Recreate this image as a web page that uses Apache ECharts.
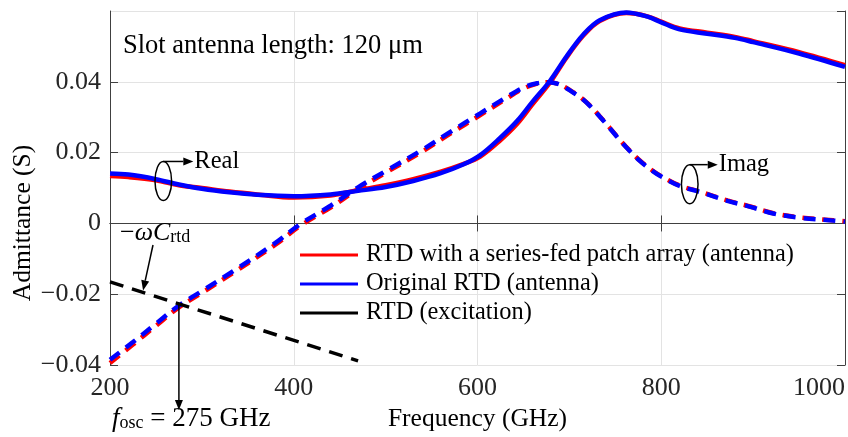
<!DOCTYPE html>
<html>
<head>
<meta charset="utf-8">
<script src="https://cdn.jsdelivr.net/npm/echarts@6/dist/echarts.min.js"></script>
<style>
html,body{margin:0;padding:0;background:#fff;}
#c{width:848px;height:437px;}
</style>
</head>
<body>
<div id="c"></div>
<script>
// ---- data ----
const xTicks = [200, 400, 600, 800, 1000];
const yTicks = [-0.04, -0.02, 0, 0.02, 0.04];

const realFreq = [200,220,250,275,300,330,360,400,440,470,500,530,560,585,603,624,643,660,679,697,715,733,762,785,800,820,850,880,900,950,1000];
const realOrig = [0.0141,0.0138,0.0125,0.0110,0.0098,0.0088,0.0081,0.0077,0.0082,0.0092,0.0103,0.0120,0.0142,0.0167,0.0193,0.0240,0.0289,0.0344,0.0403,0.0472,0.0533,0.0574,0.0596,0.0584,0.0568,0.0548,0.0536,0.0524,0.0512,0.0480,0.0442];
const realPatch = [0.0134,0.0131,0.0122,0.0108,0.0100,0.0090,0.0082,0.0073,0.0079,0.0094,0.0108,0.0125,0.0146,0.0168,0.0189,0.0233,0.0281,0.0337,0.0398,0.0469,0.0530,0.0572,0.0594,0.0585,0.0570,0.0551,0.0539,0.0527,0.0515,0.0484,0.0447];

const imagFreq = [200,225,250,275,300,335,380,407,440,470,500,540,570,603,630,650,665,677,690,701,712,722,733,744,755,766,777,788,799,820,842,872,897,922,951,987,1000];
const imagOrig = [-0.0385,-0.0335,-0.0283,-0.0232,-0.0191,-0.0133,-0.0055,-0.0002,0.0050,0.0102,0.0148,0.0208,0.0258,0.0311,0.0354,0.0384,0.0396,0.0399,0.0392,0.0375,0.0356,0.0333,0.0302,0.0269,0.0235,0.0204,0.0176,0.0153,0.0134,0.0106,0.0089,0.0064,0.0047,0.0028,0.0016,0.0008,0.0005];
const imagPatch = [-0.0394,-0.0342,-0.0289,-0.0237,-0.0196,-0.0138,-0.0060,-0.0007,0.0045,0.0097,0.0143,0.0203,0.0253,0.0306,0.0350,0.0381,0.0395,0.0399,0.0392,0.0376,0.0357,0.0334,0.0303,0.0270,0.0236,0.0205,0.0177,0.0154,0.0135,0.0107,0.0090,0.0065,0.0048,0.0029,0.0017,0.0009,0.0006];

const excFreq = [200, 470];
const excVals = [-0.0165, -0.0388];

const nameRed = 'RTD with a series-fed patch array (antenna)';
const nameBlue = 'Original RTD (antenna)';
const nameBlack = 'RTD (excitation)';

const FONT = '"Liberation Serif", "Times New Roman", serif';
const pairs = (xs, ys) => xs.map((x, i) => [x, ys[i]]);

const chart = echarts.init(document.getElementById('c'), null, {renderer: 'canvas'});

const axisLineColor = '#404040';
const gridColor = '#e3e3e3';

const option = {
  animation: false,
  backgroundColor: '#fff',
  grid: {left: 110, right: 3, top: 11, bottom: 70, containLabel: false},
  legend: {
    orient: 'vertical', left: 300, top: 243, padding: 0,
    itemWidth: 58, itemHeight: 3, itemGap: 5, icon: 'rect',
    textStyle: {fontFamily: FONT, fontSize: 24.4, color: '#000', lineHeight: 23, padding: [0, 0, 0, 3]},
    data: [
      {name: nameRed, itemStyle: {color: '#ff0000'}},
      {name: nameBlue, itemStyle: {color: '#0000ff'}},
      {name: nameBlack, itemStyle: {color: '#000000'}}
    ]
  },
  xAxis: [{
    type: 'value', min: 200, max: 1000, interval: 200,
    name: 'Frequency (GHz)', nameLocation: 'middle', nameGap: 37,
    nameTextStyle: {fontFamily: FONT, fontSize: 25.5, color: '#000'},
    axisLine: {show: true, lineStyle: {color: axisLineColor, width: 1}},
    axisTick: {show: true, inside: true, length: 8, lineStyle: {color: axisLineColor}},
    axisLabel: {fontFamily: FONT, fontSize: 26, color: '#262626', margin: 10, alignMaxLabel: 'right',
      formatter: v => xTicks.includes(v) ? String(v) : ''},
    splitLine: {show: true, lineStyle: {color: gridColor, width: 1}}
  }, {
    type: 'value', min: 200, max: 1000, interval: 200, position: 'top',
    axisLine: {show: true, lineStyle: {color: axisLineColor, width: 1}},
    axisTick: {show: true, inside: true, length: 8, lineStyle: {color: axisLineColor}},
    axisLabel: {show: false}, splitLine: {show: false}
  }],
  yAxis: [{
    type: 'value', min: -0.04, max: 0.06, interval: 0.02,
    axisLine: {show: true, lineStyle: {color: axisLineColor, width: 1}},
    axisTick: {show: true, inside: true, length: 8, lineStyle: {color: axisLineColor}},
    axisLabel: {fontFamily: FONT, fontSize: 26, color: '#262626', margin: 9, showMaxLabel: false,
      formatter: v => {
        const r = Math.round(v * 100) / 100;
        if (Math.abs(r) < 1e-9) return '0';
        if (!yTicks.some(t => Math.abs(t - r) < 1e-9)) return '';
        return (r < 0 ? '\u2212' : '') + Math.abs(r).toFixed(2);
      }},
    splitLine: {show: true, lineStyle: {color: gridColor, width: 1}}
  }, {
    type: 'value', min: -0.04, max: 0.06, interval: 0.02, position: 'right',
    axisLine: {show: true, lineStyle: {color: axisLineColor, width: 1}},
    axisTick: {show: true, inside: true, length: 8, lineStyle: {color: axisLineColor}},
    axisLabel: {show: false}, splitLine: {show: false}
  }],
  series: [
    {name: nameRed, type: 'line', data: pairs(realFreq, realPatch), showSymbol: false, symbol: 'none', smooth: 0.35, z: 3,
      lineStyle: {color: '#ff0000', width: 4.5}, itemStyle: {color: '#ff0000'}},
    {name: nameRed, type: 'line', data: pairs(imagFreq, imagPatch), showSymbol: false, symbol: 'none', smooth: 0.35, z: 3,
      lineStyle: {color: '#ff0000', width: 4.5, type: [12, 8]}, itemStyle: {color: '#ff0000'}},
    {name: nameBlue, type: 'line', data: pairs(realFreq, realOrig), showSymbol: false, symbol: 'none', smooth: 0.35, z: 4,
      lineStyle: {color: '#0000ff', width: 4.5}, itemStyle: {color: '#0000ff'}},
    {name: nameBlue, type: 'line', data: pairs(imagFreq, imagOrig), showSymbol: false, symbol: 'none', smooth: 0.35, z: 4,
      lineStyle: {color: '#0000ff', width: 4.5, type: [12, 8]}, itemStyle: {color: '#0000ff'}},
    {name: nameBlack, type: 'line', data: pairs(excFreq, excVals), showSymbol: false, symbol: 'none', z: 5,
      lineStyle: {color: '#000000', width: 3.5, type: [14, 9]}, itemStyle: {color: '#000'}}
  ]
};
chart.setOption(option);

// ---- annotations ----
function arrowEls(p1, p2) {
  const dx = p2[0] - p1[0], dy = p2[1] - p1[1], L = Math.hypot(dx, dy);
  const ux = dx / L, uy = dy / L, hl = 10, hw = 4;
  const bx = p2[0] - ux * hl, by = p2[1] - uy * hl;
  return [
    {type: 'line', z: 100, shape: {x1: p1[0], y1: p1[1], x2: bx, y2: by}, style: {stroke: '#000', lineWidth: 1.5}},
    {type: 'polygon', z: 100, shape: {points: [[p2[0], p2[1]], [bx - uy * hw, by + ux * hw], [bx + uy * hw, by - ux * hw]]}, style: {fill: '#000'}}
  ];
}
const toPx = (p) => chart.convertToPixel({gridIndex: 0}, p);
const excAt = f => excVals[0] + (excVals[1] - excVals[0]) * (f - excFreq[0]) / (excFreq[1] - excFreq[0]);

const g = [];
// y axis title
g.push({type: 'text', z: 100, x: 23, y: 223, rotation: Math.PI / 2, style: {text: 'Admittance (S)', font: '25.5px ' + FONT, fill: '#000', align: 'center', verticalAlign: 'middle'}});

g.push({type: 'text', z: 100, left: 123, top: 33, style: {text: 'Slot antenna length: 120 \u03bcm', font: '26.5px ' + FONT, fill: '#000'}});

// Real marker
const rc = toPx([258, 0.0120]);
g.push({type: 'ellipse', z: 100, shape: {cx: rc[0], cy: rc[1], rx: 8.3, ry: 19.5}, style: {fill: 'none', stroke: '#000', lineWidth: 1.5}});
g.push(...arrowEls([rc[0], rc[1] - 19.5], [rc[0] + 30, rc[1] - 19.5]));
g.push({type: 'text', z: 100, x: rc[0] + 31, y: rc[1] - 19.5, style: {text: 'Real', font: '24.5px ' + FONT, fill: '#000', verticalAlign: 'middle', align: 'left'}});

// Imag marker
const ic = toPx([831, 0.0111]);
g.push({type: 'ellipse', z: 100, shape: {cx: ic[0], cy: ic[1], rx: 8.3, ry: 19.5}, style: {fill: 'none', stroke: '#000', lineWidth: 1.5}});
g.push(...arrowEls([ic[0], ic[1] - 19.5], [ic[0] + 28, ic[1] - 19.5]));
g.push({type: 'text', z: 100, x: ic[0] + 29, y: ic[1] - 19.5, style: {text: 'Imag', font: '24.5px ' + FONT, fill: '#000', verticalAlign: 'middle', align: 'left'}});

// -omega C_rtd label and arrow
g.push({type: 'text', z: 100, x: 120, y: 232, style: {
  text: '{n|\u2212}{i|\u03c9C}{s|rtd}', verticalAlign: 'middle', align: 'left',
  rich: {
    n: {fontFamily: FONT, fontSize: 26, fill: '#000', lineHeight: 28, verticalAlign: 'bottom'},
    i: {fontFamily: FONT, fontSize: 26, fontStyle: 'italic', fill: '#000', lineHeight: 28, verticalAlign: 'bottom'},
    s: {fontFamily: FONT, fontSize: 18, fill: '#000', lineHeight: 19, verticalAlign: 'bottom'}
  }}});
const tip1 = toPx([236, excAt(236)]);
g.push(...arrowEls([153, 245], [tip1[0], tip1[1] - 2]));

// f_osc arrow and label
const fo = toPx([275, excAt(275)]);
g.push(...arrowEls([fo[0], fo[1]], [fo[0], 410]));
g.push({type: 'text', z: 100, x: 112, y: 418, style: {
  text: '{i|f}{s|osc}{n| = 275 GHz}', verticalAlign: 'middle', align: 'left',
  rich: {
    i: {fontFamily: FONT, fontSize: 27, fontStyle: 'italic', fill: '#000', lineHeight: 28, verticalAlign: 'bottom'},
    s: {fontFamily: FONT, fontSize: 18, fill: '#000', lineHeight: 14, verticalAlign: 'bottom'},
    n: {fontFamily: FONT, fontSize: 27, fill: '#000', lineHeight: 28, verticalAlign: 'bottom'}
  }}});

chart.setOption({graphic: g});
</script>
</body>
</html>
